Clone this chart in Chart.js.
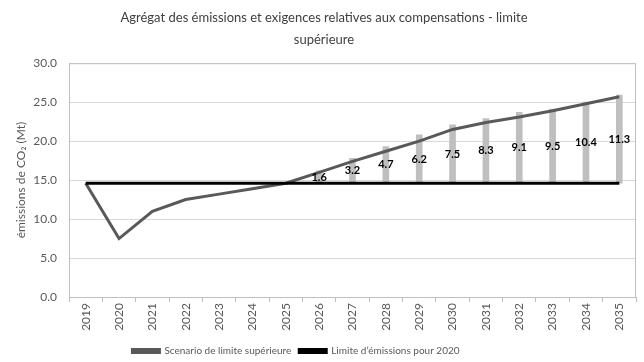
<!DOCTYPE html>
<html lang="fr">
<head>
  <meta charset="UTF-8">
  <title>Agrégat des émissions - limite supérieure</title>
  <script src="https://cdn.jsdelivr.net/npm/chart.js"></script>
  <style>
    body { margin: 0; background: #fff; }
    #wrap { width: 644px; height: 362px; }
  </style>
</head>
<body>
  <div id="wrap"><canvas id="emissions"></canvas></div>

  <script>
    // Années et séries (Mt de CO2)
    const annees = ['2019', '2020', '2021', '2022', '2023', '2024', '2025', '2026', '2027',
                    '2028', '2029', '2030', '2031', '2032', '2033', '2034', '2035'];
    const scenarioSup = [14.6, 7.5, 11.0, 12.5, 13.2, 13.9, 14.6, 16.0, 17.4,
                         18.7, 20.0, 21.5, 22.4, 23.1, 23.9, 24.8, 25.7];
    const limite2020 = [14.6, 14.6, 14.6, 14.6, 14.6, 14.6, 14.6, 14.6, 14.6,
                        14.6, 14.6, 14.6, 14.6, 14.6, 14.6, 14.6, 14.6];
    // compensations requises au-dessus de la limite
    const compensations = [null, null, null, null, null, null, null, 1.6, 3.2,
                           4.7, 6.2, 7.5, 8.3, 9.1, 9.5, 10.4, 11.3];
    const yTicks = [0, 5, 10, 15, 20, 25, 30];

    const FONT = 'Lato, "Open Sans", sans-serif';

    // barres flottantes : de la limite jusqu'à limite + compensation
    const barres = compensations.map((c, i) => c == null ? null : [limite2020[i], limite2020[i] + c]);

    // valeurs écrites au milieu de chaque barre
    const barLabels = {
      id: 'barLabels',
      afterDatasetsDraw(chart) {
        const ctx = chart.ctx;
        const meta = chart.getDatasetMeta(2);
        ctx.save();
        ctx.font = 'bold 11px ' + FONT;
        ctx.fillStyle = '#000';
        ctx.textAlign = 'center';
        ctx.textBaseline = 'middle';
        meta.data.forEach((bar, i) => {
          if (compensations[i] == null) return;
          const p = bar.getProps(['x', 'y', 'base'], true);
          ctx.fillText(compensations[i].toFixed(1), p.x, (p.y + p.base) / 2);
        });
        ctx.restore();
      }
    };

    // cadre gris autour de la zone de tracé
    const plotBorder = {
      id: 'plotBorder',
      beforeDatasetsDraw(chart) {
        const { ctx, chartArea: a } = chart;
        ctx.save();
        ctx.strokeStyle = '#bfbfbf';
        ctx.lineWidth = 1;
        ctx.strokeRect(a.left + 0.5, a.top + 0.5, a.right - a.left - 1, a.bottom - a.top);
        ctx.restore();
      }
    };

    // légende un peu décalée vers la gauche et vers le bas
    const legendShift = {
      id: 'legendShift',
      afterLayout(chart) {
        const lg = chart.legend;
        lg.right -= 56;
        lg.top += 4;
        lg.bottom += 4;
      }
    };

    new Chart(document.getElementById('emissions'), {
      type: 'bar',
      data: {
        labels: annees,
        datasets: [
          {
            type: 'line',
            label: 'Scenario de limite supérieure',
            data: scenarioSup,
            borderColor: '#595959',
            backgroundColor: '#595959',
            borderWidth: 3,
            pointRadius: 0,
            tension: 0,
            order: 1
          },
          {
            type: 'line',
            label: 'Limite d\u2019émissions pour 2020',
            data: limite2020,
            borderColor: '#000000',
            backgroundColor: '#000000',
            borderWidth: 3,
            pointRadius: 0,
            tension: 0,
            order: 0
          },
          {
            label: 'Compensations',
            data: barres,
            backgroundColor: '#bfbfbf',
            barThickness: 6,
            order: 2
          }
        ]
      },
      options: {
        responsive: true,
        maintainAspectRatio: false,
        animation: false,
        layout: { padding: { left: 12, right: 8, top: 0, bottom: 0 } },
        plugins: {
          title: {
            display: true,
            text: ['Agrégat des émissions et exigences relatives aux compensations - limite', 'supérieure'],
            color: '#404040',
            font: { family: FONT, size: 13, weight: 'normal', lineHeight: 1.7 },
            padding: { top: 7, bottom: 12 }
          },
          legend: {
            position: 'bottom',
            labels: {
              color: '#595959',
              font: { family: FONT, size: 10 },
              boxWidth: 27,
              boxHeight: 3,
              padding: 8,
              filter: item => item.datasetIndex !== 2,
              sort: (a, b) => a.datasetIndex - b.datasetIndex
            }
          },
          tooltip: { enabled: false }
        },
        scales: {
          x: {
            offset: true,
            afterFit: scale => { scale.height = 37; },
            grid: {
              offset: true,
              drawOnChartArea: false,
              tickLength: 5,
              color: '#bfbfbf'
            },
            border: { color: '#bfbfbf' },
            ticks: {
              color: '#595959',
              font: { family: FONT, size: 12 },
              minRotation: 90,
              maxRotation: 90,
              padding: 1
            }
          },
          y: {
            min: 0,
            max: 30,
            afterFit: scale => { scale.width = 57; },
            afterBuildTicks: scale => { scale.ticks = yTicks.map(v => ({ value: v })); },
            grid: { color: '#d9d9d9', drawTicks: false },
            border: { color: '#bfbfbf' },
            ticks: {
              color: '#595959',
              font: { family: FONT, size: 12 },
              padding: 12,
              callback: v => Number(v).toFixed(1)
            },
            title: {
              display: true,
              text: 'émissions de CO\u2082 (Mt)',
              color: '#595959',
              font: { family: FONT, size: 12 },
              padding: { top: 2, bottom: 2 }
            }
          }
        }
      },
      plugins: [barLabels, plotBorder, legendShift]
    });
  </script>
</body>
</html>
